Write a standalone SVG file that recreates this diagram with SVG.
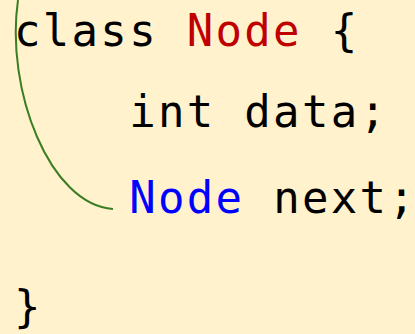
<svg xmlns="http://www.w3.org/2000/svg" width="415" height="334" viewBox="0 0 415 334">
<style>
.code{font-family:"DejaVu Sans Mono",monospace;font-size:44px;letter-spacing:2.3px;fill:#000;white-space:pre}
.kw{fill:#C00000}
.ty{fill:#0000FF}
.end{letter-spacing:0}
.conn{fill:none;stroke:#3A7D22;stroke-width:2}
</style>
<rect width="415" height="334" fill="#FFF2CC"/>
<g id="connectors">
<path class="conn" d="M18 0 C5 90 50 205 113 209"/>
</g>
<g id="line1"><text class="code" x="14" y="46">class <tspan class="kw">Node</tspan> <tspan class="end">{</tspan></text></g>
<g id="line2"><text class="code" x="14" y="127">    int data<tspan class="end">;</tspan></text></g>
<g id="line3"><text class="code" x="14" y="213">    <tspan class="ty">Node</tspan> next<tspan class="end">;</tspan></text></g>
<g id="line4"><text class="code" x="14" y="322">}</text></g>
</svg>
